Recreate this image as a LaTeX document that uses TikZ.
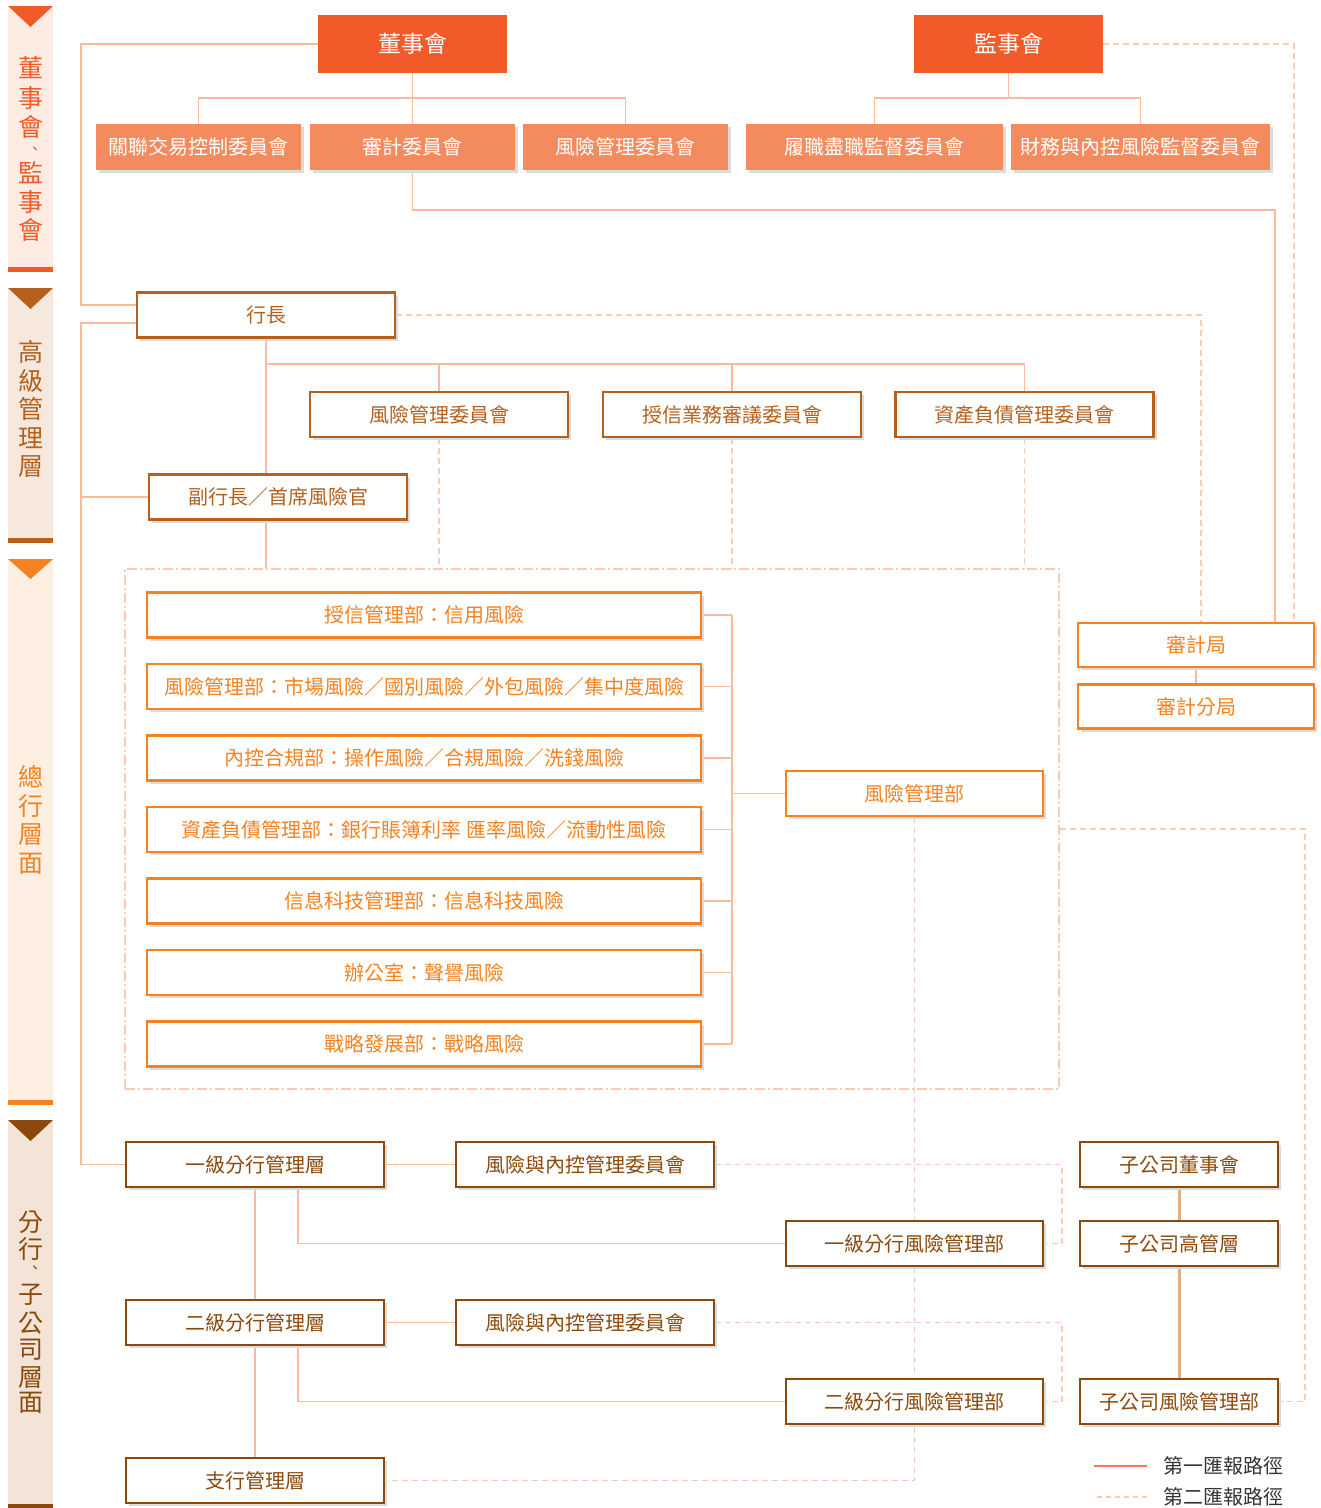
\documentclass[tikz,border=0pt]{standalone}
\usepackage{fontspec}
\setmainfont{Noto Sans CJK TC}
\usetikzlibrary{positioning,shadows,calc}
\definecolor{BoardRed}{HTML}{F15A29}
\definecolor{CommSalmon}{HTML}{F48B5F}
\definecolor{MgmtBrown}{HTML}{B5601C}
\definecolor{DeptOrange}{HTML}{F58220}
\definecolor{BranchBrown}{HTML}{8B4A0B}
\definecolor{LinePeach}{HTML}{F9BB9E}
\definecolor{DashPeach}{HTML}{FBCCB5}
\definecolor{LegendRed}{HTML}{F47A5A}
\definecolor{SubTan}{HTML}{DDB08A}
\definecolor{BarRed}{HTML}{FDECE2}
\definecolor{BarBrown}{HTML}{F6E8DC}
\definecolor{BarOrange}{HTML}{FEEFE3}
\definecolor{BarDark}{HTML}{F3E4D7}
\pgfdeclarelayer{bg}
\pgfsetlayers{bg,main}

\begin{document}
\begin{tikzpicture}[x=1pt,y=-1pt,
  txt/.style={font=\fontsize{20pt}{24pt}\selectfont},
  boxshadow/.style={drop shadow={shadow xshift=3pt,shadow yshift=-3pt,fill=black!14,opacity=1}},
  topbox/.style={fill=BoardRed,text=white,minimum width=189pt,minimum height=58pt,font=\fontsize{23pt}{26pt}\selectfont},
  combox/.style={txt,fill=CommSalmon,text=white,minimum width=205pt,minimum height=46pt,boxshadow},
  mgmtbox/.style={txt,draw=MgmtBrown,text=MgmtBrown,fill=white,line width=2.6pt,minimum width=258pt,minimum height=45pt,boxshadow},
  deptbox/.style={mgmtbox,draw=DeptOrange,text=DeptOrange,minimum width=554pt},
  brbox/.style={mgmtbox,draw=BranchBrown,text=BranchBrown},
  route1/.style={draw=LinePeach,line width=1.5pt},
  route2/.style={draw=DashPeach,line width=1.3pt,dash pattern=on 6pt off 4pt},
  bartext/.style={font=\fontsize{25pt}{25pt}\selectfont,inner sep=0pt},
  barcomma/.style={font=\fontsize{15pt}{15pt}\selectfont,inner sep=0pt}]
\useasboundingbox (0,0) rectangle (1321,1508);

% side bars
\fill[BarRed] (8,6) rectangle (53,272);
\fill[BoardRed] (8,6) -- (53,6) -- (30.5,27) -- cycle;
\fill[BoardRed] (8,267) rectangle (53,272);
\foreach \c/\y [count=\i] in {董/68,事/98,會/127,監/173,事/202,會/230}
  \node[bartext,text=BoardRed] (bar1-\i) at (30.5,\y) {\c};
\node[barcomma,text=BoardRed] (bar1-c) at (35,151) {、};
\fill[BarBrown] (8,288) rectangle (53,543);
\fill[MgmtBrown] (8,288) -- (53,288) -- (30.5,309) -- cycle;
\fill[MgmtBrown] (8,538) rectangle (53,543);
\foreach \c/\y [count=\i] in {高/352,級/381,管/409,理/438,層/467}
  \node[bartext,text=MgmtBrown] (bar2-\i) at (30.5,\y) {\c};
\fill[BarOrange] (8,559) rectangle (53,1105);
\fill[DeptOrange] (8,559) -- (53,559) -- (30.5,579) -- cycle;
\fill[DeptOrange] (8,1100) rectangle (53,1105);
\foreach \c/\y [count=\i] in {總/777,行/806,層/835,面/864}
  \node[bartext,text=DeptOrange] (bar3-\i) at (30.5,\y) {\c};
\fill[BarDark] (8,1120) rectangle (53,1508);
\fill[BranchBrown] (8,1120) -- (53,1120) -- (30.5,1141) -- cycle;
\fill[BranchBrown] (8,1504) rectangle (53,1508);
\foreach \c/\y [count=\i] in {分/1222,行/1249,子/1295,公/1323,司/1350,層/1378,面/1403}
  \node[bartext,text=BranchBrown] (bar4-\i) at (30.5,\y) {\c};
\node[barcomma,text=BranchBrown] (bar4-c) at (35,1270) {、};

% board and supervisors
\node[topbox] (board) at (412.5,44) {董事會};
\node[topbox] (sup) at (1008.5,44) {監事會};
\node[combox] (rptc) at (198.5,147) {關聯交易控制委員會};
\node[combox] (audc) at (412.5,147) {審計委員會};
\node[combox] (riskc) at (625.5,147) {風險管理委員會};
\node[combox,minimum width=257pt] (dutyc) at (874.5,147) {履職盡職監督委員會};
\node[combox,minimum width=259pt] (finc) at (1140.5,147) {財務與內控風險監督委員會};

% senior management
\node[mgmtbox] (ceo) at (266,315) {行長};
\node[mgmtbox] (cro) at (278,497) {副行長／首席風險官};
\node[mgmtbox] (rmc) at (439,414.5) {風險管理委員會};
\node[mgmtbox] (ccc) at (732,414.5) {授信業務審議委員會};
\node[mgmtbox] (alco) at (1024.5,414.5) {資產負債管理委員會};

% head office
\node[draw=DashPeach,line width=1.2pt,dash pattern=on 10pt off 3pt on 2pt off 3pt,
  minimum width=934pt,minimum height=520pt,inner sep=0pt] (hq) at (592,829) {};
\foreach \t [count=\i] in {授信管理部：信用風險,
    風險管理部：市場風險／國別風險／外包風險／集中度風險,
    內控合規部：操作風險／合規風險／洗錢風險,
    資產負債管理部：銀行賬簿利率 匯率風險／流動性風險,
    信息科技管理部：信息科技風險,
    辦公室：聲譽風險,
    戰略發展部：戰略風險}
  \node[deptbox] (dept\i) at (424,{615+71.5*(\i-1)}) {\t};
\node[deptbox,minimum width=257pt] (rmd) at (914.5,793.5) {風險管理部};
\node[deptbox,minimum width=236pt,minimum height=44pt] (audit) at (1196,645) {審計局};
\node[deptbox,minimum width=236pt,minimum height=44pt] (auditb) at (1196,706.5) {審計分局};

% branches and subsidiaries
\node[brbox] (br1) at (255,1164.5) {一級分行管理層};
\node[brbox] (brc1) at (585,1164.5) {風險與內控管理委員會};
\node[brbox,minimum width=257pt] (brd1) at (914.5,1243.5) {一級分行風險管理部};
\node[brbox] (br2) at (255,1322.5) {二級分行管理層};
\node[brbox] (brc2) at (585,1322.5) {風險與內控管理委員會};
\node[brbox,minimum width=257pt] (brd2) at (914.5,1401.5) {二級分行風險管理部};
\node[brbox] (br3) at (255,1480.5) {支行管理層};
\node[brbox,minimum width=198pt] (sub1) at (1179,1164.5) {子公司董事會};
\node[brbox,minimum width=198pt] (sub2) at (1179,1243.5) {子公司高管層};
\node[brbox,minimum width=198pt] (sub3) at (1179,1401.5) {子公司風險管理部};

% legend
\node[txt,text=black!80,anchor=west,inner sep=0pt] (leg1) at (1163,1466) {第一匯報路徑};
\node[txt,text=black!80,anchor=west,inner sep=0pt] (leg2) at (1163,1497) {第二匯報路徑};
\draw[route1,draw=LegendRed] ([xshift=-16pt]leg1.west) -- ++(-53,0);
\draw[route2,dash pattern=on 5pt off 4pt] ([xshift=-16pt]leg2.west) -- ++(-53,0);

\coordinate (spine) at (81,0);
\coordinate (mgmtbus) at (0,364);
\coordinate (deptbus) at (732,0);
\coordinate (brbus) at (1062,0);
\coordinate (subbus) at (1305,0);
\coordinate (ceoup) at ([yshift=10pt]ceo.west);
\coordinate (ceodown) at ([yshift=-8pt]ceo.west);
\coordinate (auditsol) at ([xshift=79pt]audit.north);
\coordinate (auditsup) at ([xshift=98pt]audit.north);
\coordinate (auditceo) at ([xshift=5pt]audit.north);
\coordinate (br1tap) at ([xshift=43pt]br1.south);
\coordinate (br2tap) at ([xshift=43pt]br2.south);

\begin{pgfonlayer}{bg}
\draw[route1] (board.south) -- (audc.north);
\draw[route1] (rptc.north) -- ++(0,-26) -| (riskc.north);
\draw[route1] (sup.south) -- ++(0,25);
\draw[route1] (dutyc.north) -- ++(0,-26) -| (finc.north);
\draw[route1] (audc.south) -- ++(0,40) -| (auditsol);
\draw[route2] (sup.east) -| (auditsup);
\draw[route2] (ceo.east) -| (auditceo);
\draw[route1] (audit.south) -- (auditb.north);
%\draw[route1] (board.west) -| (spine);
\draw[route1] (board.west) -| (ceoup -| spine) -- (ceoup);
\draw[route1] (ceodown) -| (br1.west -| spine) -- (br1.west);
\draw[route1] (cro.west -| spine) -- (cro.west);
\draw[route1] (ceo.south) -- (ceo.south |- hq.north);
\draw[route1] (ceo.south |- mgmtbus) -| (alco.north);
\draw[route1] (rmc.north) -- (rmc.north |- mgmtbus);
\draw[route1] (ccc.north) -- (ccc.north |- mgmtbus);
\foreach \n in {rmc,ccc,alco}
  \draw[route2] (\n.south) -- (\n.south |- hq.north);
\foreach \i in {1,...,7}
  \draw[route1] (dept\i.east) -- (dept\i.east -| deptbus);
\draw[route1] (dept1.east -| deptbus) -- (dept7.east -| deptbus);
\draw[route1] (rmd.west) -- (rmd.west -| deptbus);
\draw[route2] (rmd.south) |- (br3.east);
\draw[route2] (hq.east) -| (sub3.east -| subbus) -- (sub3.east);
\draw[route1] (br1.east) -- (brc1.west);
\draw[route1] (br2.east) -- (brc2.west);
\draw[route2] (brc1.east) -| (brd1.east -| brbus) -- (brd1.east);
\draw[route2] (brc2.east) -| (brd2.east -| brbus) -- (brd2.east);
\draw[route1] (br1tap) |- (brd1.west);
\draw[route1] (br2tap) |- (brd2.west);
\draw[route1] (br1.south) -- (br2.north);
\draw[route1] (br2.south) -- (br3.north);
\draw[SubTan,line width=3pt] (sub1.south) -- (sub2.north);
\draw[SubTan,line width=3pt] (sub2.south) -- (sub3.north);
\end{pgfonlayer}
\end{tikzpicture}
\end{document}
